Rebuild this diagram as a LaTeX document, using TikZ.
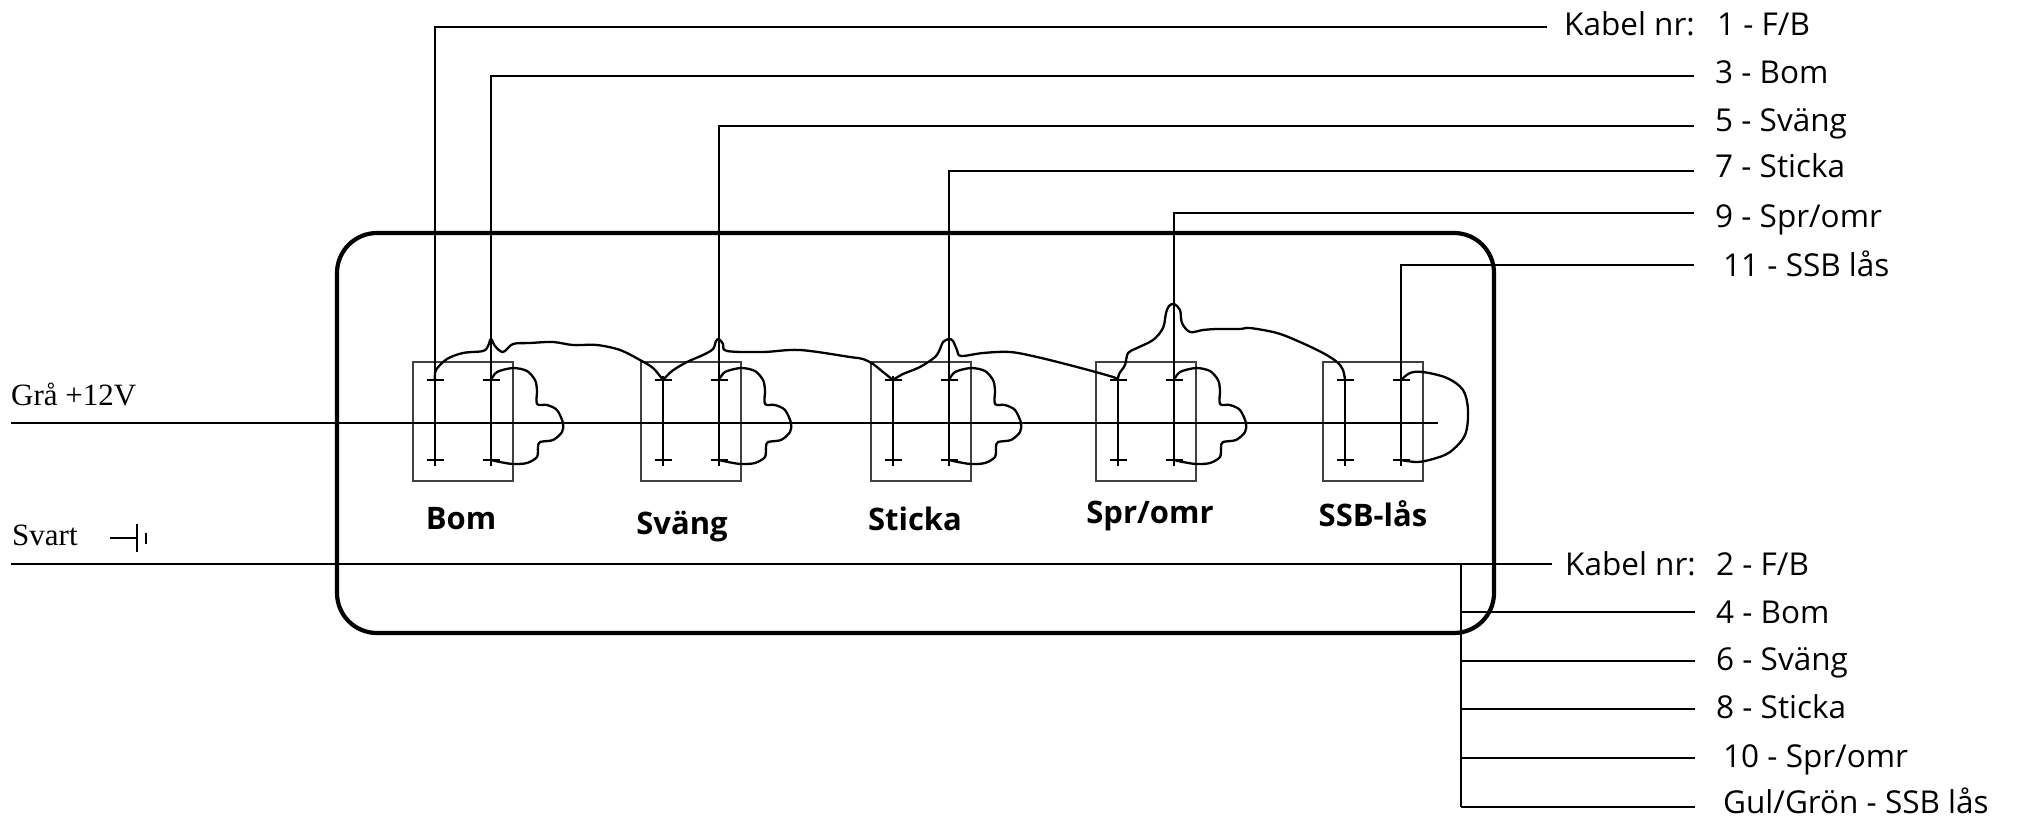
\documentclass[tikz,border=0pt]{standalone}
\usepackage{fontspec}
\setmainfont{Liberation Serif}
\newfontfamily\osans{Open Sans}
\begin{document}
\begin{tikzpicture}[x=1pt,y=-1pt,
  frame/.style={line width=4.2pt, rounded corners=40pt},
  bus/.style={line width=2.4pt},
  cable/.style={line width=2pt},
  swbox/.style={draw=black!75, line width=1.4pt},
  pin/.style={line width=1.1pt},
  wire/.style={line width=2.3pt, line join=round, line cap=round},
  lbl/.style={font=\osans\fontsize{31.5}{36}\selectfont, anchor=base west, inner sep=0pt},
  swlbl/.style={font=\osans\bfseries\fontsize{31}{36}\selectfont, anchor=base, inner sep=0pt},
  side/.style={font=\fontsize{31}{36}\selectfont, anchor=base west, inner sep=0pt}]
\useasboundingbox (0,0) rectangle (2018,820);

% outer housing
\draw[frame] (337,233) rectangle (1494,633);

% switches
\foreach \i/\xl in {1/413,2/641,3/871,4/1096,5/1323} {
  \draw[swbox] (\xl,362) rectangle ++(100,119);
  \coordinate (L\i) at (\xl+22,380);
  \coordinate (R\i) at (\xl+78,380);
  \coordinate (Lb\i) at (\xl+22,460);
  \coordinate (Rb\i) at (\xl+78,460);
  \draw[pin] (L\i) ++(0,-4) -- ++(0,90);
  \draw[pin] (R\i) ++(0,-4) -- ++(0,90);
  \draw[pin] (L\i) ++(-8.5,0) -- ++(17,0);
  \draw[pin] (R\i) ++(-8.5,0) -- ++(17,0);
  \draw[pin] (Lb\i) ++(-8.5,0) -- ++(17,0);
  \draw[pin] (Rb\i) ++(-8.5,0) -- ++(17,0);
}

% switch labels
\node[swlbl] (n1) at (461,529) {Bom};
\node[swlbl] (n2) at (682,534) {Sväng};
\node[swlbl] (n3) at (915,530) {Sticka};
\node[swlbl] (n4) at (1150,523) {Spr/omr};
\node[swlbl] (n5) at (1373,526) {SSB-lås};

% +12V and ground buses
\node[side] (gra) at (11,405) {Grå +12V};
\node[side] (sva) at (12,545) {Svart};
\coordinate (p0) at (11,423);
\coordinate (p1) at (1438,423);
\draw[bus] (p0) -- (p1);
\coordinate (g0) at (11,564);
\coordinate (g1) at (1552,564);
\draw[bus] (g0) -- (g1);
% ground symbol
\coordinate (gs) at (110,538);
\draw[pin] (gs) -- ++(27,0);
\draw[pin] (137,524) -- (137,552);
\draw[pin] (146,533) -- (146,544);

% top cables
\coordinate (k1) at (1547,27);
\coordinate (k3) at (1694,76);
\coordinate (k5) at (1694,126);
\coordinate (k7) at (1694,171);
\coordinate (k9) at (1694,213);
\coordinate (k11) at (1694,265);
\draw[cable] (L1) |- (k1);
\draw[cable] (R1) |- (k3);
\draw[cable] (R2) |- (k5);
\draw[cable] (R3) |- (k7);
\draw[cable] (R4) |- (k9);
\draw[cable] (R5) |- (k11);

\node[lbl] (t0) at (1564,35) {Kabel nr:};
\node[lbl] (t1) at (1717,35) {1 - F/B};
\node[lbl] (t3) at (1715,83) {3 - Bom};
\node[lbl] (t5) at (1715,131) {5 - Sväng};
\node[lbl] (t7) at (1715,177) {7 - Sticka};
\node[lbl] (t9) at (1715,227) {9 - Spr/omr};
\node[lbl] (t11) at (1723,276) {11 - SSB lås};

% bottom cables
\coordinate (v0) at (1461,564);
\coordinate (v1) at (1461,807);
\draw[cable] (v0) -- (v1);
\foreach \y in {612,661,709,758,807} {
  \draw[cable] (1461,\y) -- (1695,\y);
}
\node[lbl] (u0) at (1565,575) {Kabel nr:};
\node[lbl] (u2) at (1716,575) {2 - F/B};
\node[lbl] (u4) at (1716,623) {4 - Bom};
\node[lbl] (u6) at (1716,670) {6 - Sväng};
\node[lbl] (u8) at (1716,718) {8 - Sticka};
\node[lbl] (u10) at (1723,767) {10 - Spr/omr};
\node[lbl] (u12) at (1723,813) {Gul/Grön - SSB lås};

% chained supply wire along the top of the switches
\draw[wire] plot[smooth,tension=0.55] coordinates {(L1) (436,370) (447,359) (463,353) (483,351) (488,346) (491,339) (495,346) (503,352) (513,344) (530,343) (553,342) (573,345) (597,345) (620,350) (640,360) (653,368) (L2)};
\draw[wire] plot[smooth,tension=0.55] coordinates {(L2) (672,371) (687,362) (703,355) (713,349) (716,341) (719,339) (723,344) (727,351) (763,352) (800,350) (850,357) (863,359) (873,364) (883,372) (L3)};
\draw[wire] plot[smooth,tension=0.55] coordinates {(L3) (903,374) (920,367) (935,357) (940,349) (943,342) (949,339) (953,341) (957,350) (961,356) (983,353) (1010,352) (1037,357) (1077,367) (1113,377) (L4)};
\draw[wire] plot[smooth,tension=0.55] coordinates {(L4) (1119,374) (1125,365) (1128,353) (1137,348) (1153,340) (1163,328) (1166,313) (1169,306) (1174,304) (1180,310) (1182,323) (1190,332) (1203,330) (1217,329) (1240,329) (1250,328) (1277,333) (1300,342) (1323,353) (1337,362) (1343,370) (L5)};

% loops from top to bottom contact of the right pins
\foreach \i/\xr in {1/491,2/719,3/949,4/1174} {
  \draw[wire] plot[smooth,tension=0.5] coordinates {(R\i) (\xr+6,372) (\xr+22,368) (\xr+36,371) (\xr+44,380) (\xr+46,390) (\xr+46,404) (\xr+56,405) (\xr+66,410) (\xr+72,423) (\xr+71,432) (\xr+62,440) (\xr+49,442) (\xr+47,447) (\xr+46,457) (\xr+36,463) (\xr+22,464) (\xr+9,462) (Rb\i)};
}
\draw[wire] plot[smooth,tension=0.55] coordinates {(R5) (1410,373) (1423,372) (1447,378) (1463,390) (1468,410) (1465,435) (1450,452) (1433,459) (1417,462) (Rb5)};
\end{tikzpicture}
\end{document}
